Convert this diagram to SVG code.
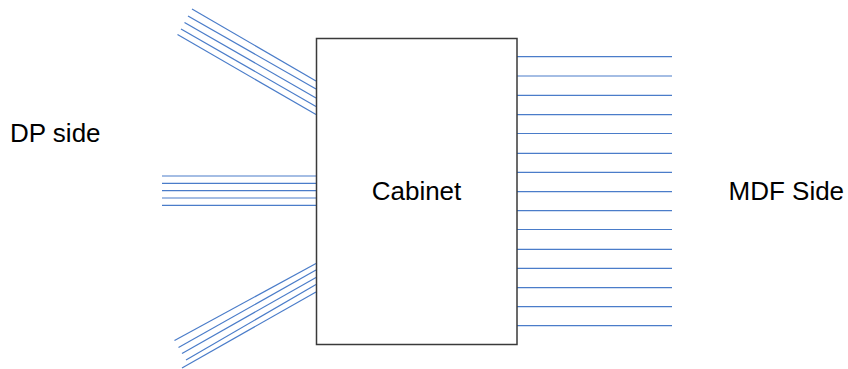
<svg xmlns="http://www.w3.org/2000/svg" width="848" height="369" viewBox="0 0 848 369">
  <style>
    .wire { stroke: #4a7cc9; stroke-width: 1.2; fill: none; }
    .box { fill: #ffffff; stroke: #3a3a3a; stroke-width: 1.5; }
    .label { font-family: "Liberation Sans", Arial, sans-serif; font-size: 26px; fill: #000000; }
  </style>
  <rect width="848" height="369" fill="#ffffff"/>

  <!-- cable pairs running into and out of the cabinet -->
  <g id="connectors">
    <!-- DP side, upper bundle -->
    <line class="wire" x1="192" y1="9" x2="316" y2="81"/>
    <line class="wire" x1="188" y1="16" x2="316" y2="89"/>
    <line class="wire" x1="184.5" y1="22.5" x2="316" y2="98"/>
    <line class="wire" x1="181" y1="29" x2="316" y2="106.5"/>
    <line class="wire" x1="177.5" y1="34.5" x2="316" y2="114.5"/>
    <!-- DP side, middle bundle -->
    <line class="wire" x1="162" y1="176" x2="316" y2="176"/>
    <line class="wire" x1="162" y1="183.3" x2="316" y2="183.3"/>
    <line class="wire" x1="162" y1="190.7" x2="316" y2="190.7"/>
    <line class="wire" x1="162" y1="198" x2="316" y2="198"/>
    <line class="wire" x1="162" y1="205.3" x2="316" y2="205.3"/>
    <!-- DP side, lower bundle -->
    <line class="wire" x1="174.5" y1="340.5" x2="316" y2="263.5"/>
    <line class="wire" x1="178.5" y1="347.5" x2="316" y2="270"/>
    <line class="wire" x1="182" y1="353.5" x2="316" y2="277.5"/>
    <line class="wire" x1="186" y1="360" x2="316" y2="284.5"/>
    <line class="wire" x1="182" y1="368" x2="316" y2="292"/>
    <!-- MDF side -->
    <line class="wire" x1="517" y1="56.7" x2="672" y2="56.7"/>
    <line class="wire" x1="517" y1="76" x2="672" y2="76"/>
    <line class="wire" x1="517" y1="95.3" x2="672" y2="95.3"/>
    <line class="wire" x1="517" y1="114.7" x2="672" y2="114.7"/>
    <line class="wire" x1="517" y1="133.5" x2="672" y2="133.5"/>
    <line class="wire" x1="517" y1="153.3" x2="672" y2="153.3"/>
    <line class="wire" x1="517" y1="172.3" x2="672" y2="172.3"/>
    <line class="wire" x1="517" y1="191.7" x2="672" y2="191.7"/>
    <line class="wire" x1="517" y1="210.7" x2="672" y2="210.7"/>
    <line class="wire" x1="517" y1="229.5" x2="672" y2="229.5"/>
    <line class="wire" x1="517" y1="249.3" x2="672" y2="249.3"/>
    <line class="wire" x1="517" y1="268.3" x2="672" y2="268.3"/>
    <line class="wire" x1="517" y1="287.7" x2="672" y2="287.7"/>
    <line class="wire" x1="517" y1="306.7" x2="672" y2="306.7"/>
    <line class="wire" x1="517" y1="325.7" x2="672" y2="325.7"/>
  </g>

  <g id="cabinet">
    <rect class="box" x="316.5" y="38.5" width="200.5" height="306"/>
    <text class="label" x="416.5" y="199.5" text-anchor="middle">Cabinet</text>
  </g>

  <g id="dp-side">
    <text class="label" x="10" y="141.5">DP side</text>
  </g>

  <g id="mdf-side">
    <text class="label" x="728.5" y="199.5">MDF Side</text>
  </g>
</svg>
